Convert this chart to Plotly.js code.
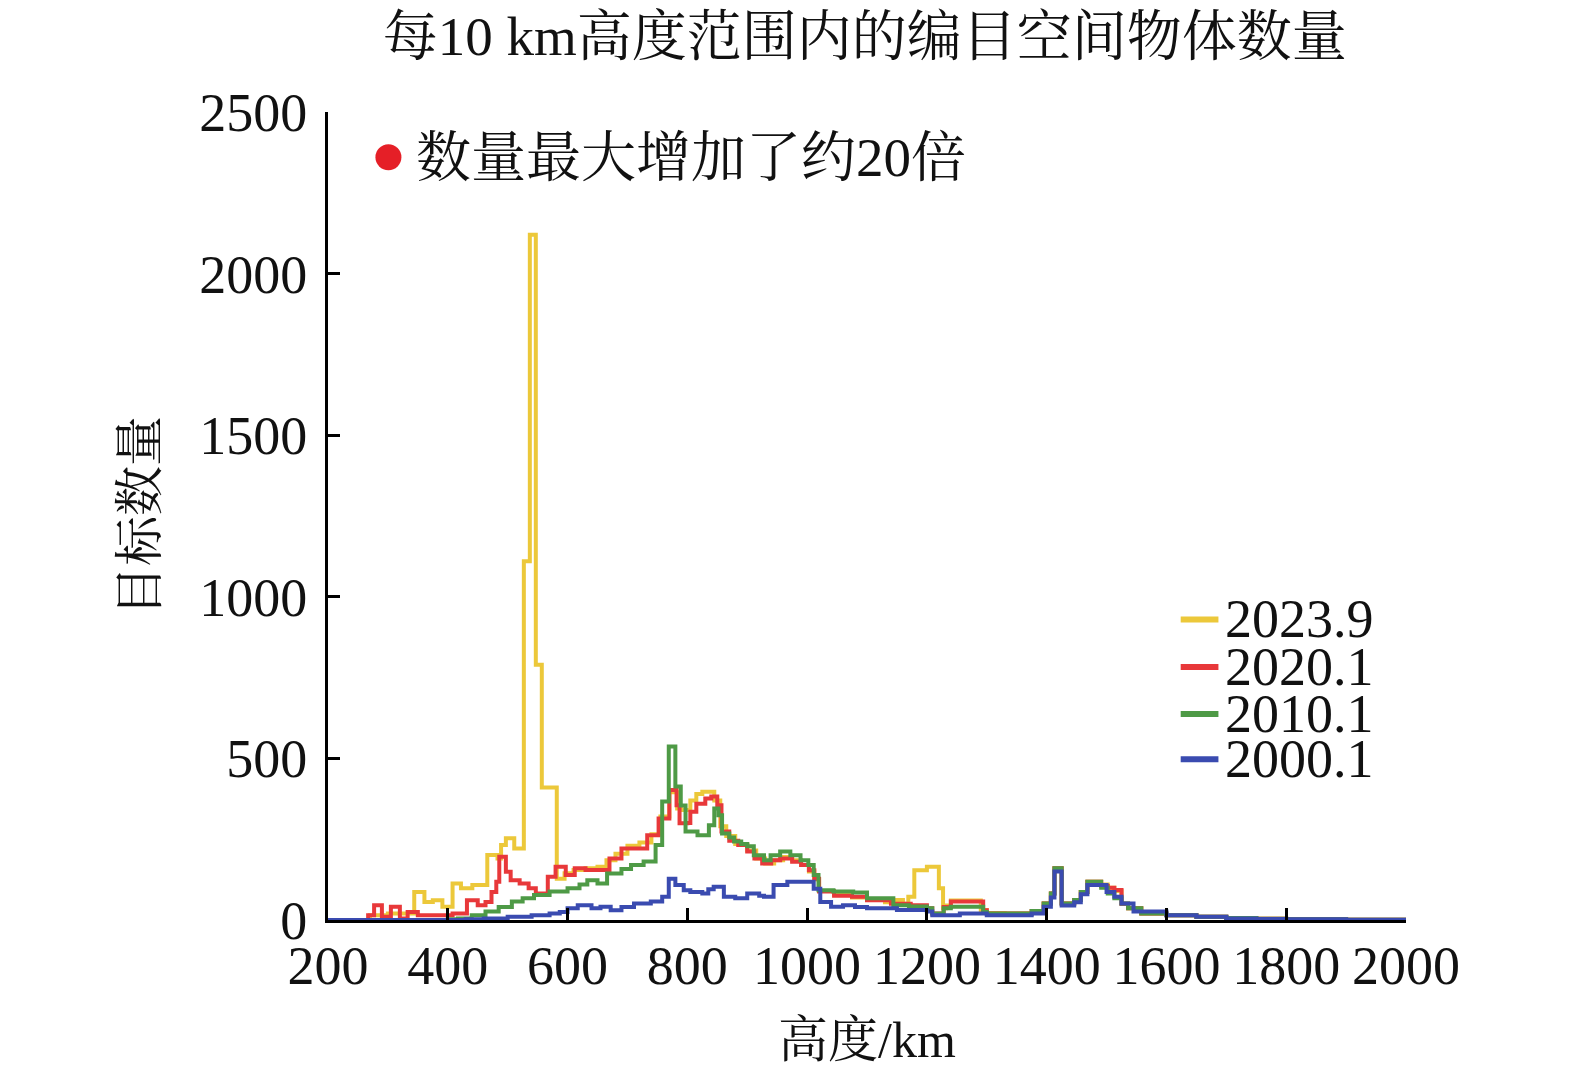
<!DOCTYPE html>
<html>
<head>
<meta charset="utf-8">
<script src="https://cdn.plot.ly/plotly-3.0.1.min.js"></script>
<style>
  body { margin: 0; background: #fff; }
  #debris-graph { width: 1575px; height: 1080px; }
</style>
</head>
<body>
<div id="debris-graph"></div>
<script>
// step histogram, x = start of each step (km), y = objects per 10 km
const x2023 = [200, 270, 300, 344, 361, 375, 391, 408, 422, 441, 466, 483, 489, 497, 511, 527, 537, 547, 557, 582, 595, 610, 630, 650, 665, 680, 700, 720, 740, 755, 770, 783, 790, 805, 815, 825, 845, 855, 865, 880, 900, 915, 930, 945, 960, 975, 990, 1003, 1012, 1020, 1045, 1075, 1100, 1130, 1145, 1160, 1169, 1179, 1200, 1220, 1227, 1232, 1240, 1290, 1300, 1330, 1375, 1395, 1407, 1413, 1425, 1446, 1457, 1468, 1491, 1502, 1513, 1525, 1536, 1558, 1600, 1650, 1700, 1750, 1800, 1900, 2000]
const y2023 = [0, 15, 20, 87, 56, 61, 41, 113, 98, 108, 201, 190, 232, 253, 221, 1110, 2120, 790, 410, 128, 145, 155, 160, 165, 185, 205, 230, 240, 265, 320, 395, 345, 340, 370, 390, 397, 370, 290, 260, 235, 215, 190, 175, 185, 195, 185, 170, 150, 125, 90, 80, 70, 62, 55, 62, 50, 72, 154, 165, 98, 36, 45, 60, 31, 22, 20, 28, 51, 82, 160, 51, 62, 87, 118, 110, 100, 90, 50, 36, 20, 15, 10, 6, 4, 2, 1, 1]

const x2020 = [200, 267, 277, 290, 305, 320, 333, 350, 380, 408, 432, 450, 463, 473, 481, 486, 497, 505, 520, 535, 547, 567, 580, 597, 612, 630, 670, 690, 727, 733, 752, 770, 782, 787, 800, 805, 815, 830, 840, 850, 857, 870, 885, 900, 912, 925, 940, 955, 975, 990, 1003, 1012, 1020, 1045, 1075, 1100, 1140, 1173, 1200, 1209, 1228, 1240, 1294, 1300, 1375, 1395, 1407, 1413, 1425, 1446, 1457, 1468, 1491, 1502, 1513, 1525, 1536, 1558, 1600, 1650, 1700, 1750, 1800, 1900, 2000]
const y2020 = [0, 15, 46, 10, 41, 5, 25, 15, 15, 20, 61, 46, 56, 87, 118, 196, 149, 123, 113, 98, 82, 134, 165, 139, 160, 155, 190, 221, 221, 262, 314, 402, 355, 299, 300, 335, 360, 376, 382, 355, 274, 245, 232, 212, 190, 175, 185, 190, 180, 170, 154, 128, 88, 75, 72, 61, 50, 46, 36, 20, 40, 57, 30, 20, 28, 51, 82, 160, 51, 62, 87, 118, 105, 100, 93, 50, 36, 20, 15, 10, 6, 4, 2, 1, 1]

const x2010 = [200, 400, 417, 440, 463, 485, 507, 525, 544, 570, 600, 620, 633, 650, 666, 690, 706, 727, 747, 758, 769, 780, 789, 797, 817, 836, 845, 852, 858, 870, 878, 890, 900, 911, 928, 939, 955, 972, 989, 1002, 1011, 1019, 1044, 1077, 1100, 1144, 1170, 1200, 1209, 1228, 1240, 1294, 1300, 1375, 1395, 1407, 1413, 1425, 1446, 1457, 1468, 1491, 1502, 1513, 1525, 1536, 1558, 1600, 1650, 1700, 1750, 1800, 1900, 2000]
const y2010 = [0, 2, 5, 15, 26, 40, 57, 67, 77, 88, 98, 110, 123, 113, 144, 158, 170, 181, 232, 367, 537, 413, 354, 274, 262, 293, 345, 324, 268, 255, 243, 235, 228, 200, 185, 200, 212, 200, 185, 170, 139, 92, 88, 85, 67, 46, 42, 36, 20, 36, 41, 25, 20, 28, 51, 82, 160, 51, 62, 87, 118, 100, 82, 67, 51, 36, 20, 15, 10, 6, 4, 2, 1, 1]

const x2000 = [200, 430, 460, 500, 540, 570, 587, 600, 617, 640, 655, 672, 690, 711, 739, 758, 769, 780, 794, 805, 825, 835, 844, 861, 880, 900, 920, 928, 944, 967, 1000, 1011, 1022, 1040, 1060, 1080, 1100, 1150, 1200, 1209, 1255, 1300, 1375, 1395, 1407, 1413, 1425, 1446, 1457, 1468, 1500, 1513, 1525, 1545, 1600, 1650, 1700, 1750, 1800, 1900, 2000]
const y2000 = [0, 2, 5, 10, 15, 20, 25, 36, 46, 36, 41, 30, 40, 51, 57, 72, 128, 108, 92, 87, 82, 95, 103, 72, 67, 82, 75, 72, 108, 118, 118, 97, 56, 41, 46, 40, 36, 31, 26, 15, 20, 15, 20, 41, 70, 150, 45, 55, 80, 108, 87, 72, 51, 26, 15, 10, 5, 3, 2, 1, 1]

const seriesNames = ['2023.9', '2020.1', '2010.1', '2000.1']
const seriesColors = ['#ecc83a', '#e8383a', '#4e9a46', '#3a4bb0']

const serif = 'Liberation Serif, Times New Roman, Noto Serif CJK SC, Noto Sans CJK SC, serif'

function stepTrace (xs, ys, i) {
  return {
    x: xs,
    y: ys,
    name: seriesNames[i],
    type: 'scatter',
    mode: 'lines',
    line: { shape: 'hv', color: seriesColors[i], width: 4 },
    showlegend: false
  }
}

var data = [
  stepTrace(x2023, y2023, 0),
  stepTrace(x2020, y2020, 1),
  stepTrace(x2010, y2010, 2),
  stepTrace(x2000, y2000, 3)
]

// hand-made legend, the reference packs its rows tighter than plotly's legend can
const legendY = [0.372, 0.313, 0.255, 0.199]
var shapes = []
var annotations = []
seriesNames.forEach(function (name, i) {
  shapes.push({
    type: 'line', xref: 'paper', yref: 'paper',
    x0: 0.791, x1: 0.826, y0: legendY[i], y1: legendY[i],
    line: { color: seriesColors[i], width: 6 }
  })
  annotations.push({
    xref: 'paper', yref: 'paper', x: 0.8306, y: legendY[i],
    xanchor: 'left', yanchor: 'middle', showarrow: false,
    height: 46, valign: 'middle',
    text: name, font: { family: serif, size: 54, color: '#111' }
  })
})

// red dot + note
shapes.push({
  type: 'circle', xref: 'paper', yref: 'paper',
  x0: 0.0440, x1: 0.0681, y0: 0.928, y1: 0.960,
  fillcolor: '#e51f27', line: { width: 0 }
})
annotations.push({
  xref: 'paper', yref: 'paper', x: 0.080, y: 0.944,
  xanchor: 'left', yanchor: 'middle', showarrow: false,
  text: '数量最大增加了约20倍', font: { family: serif, size: 55, color: '#111' }
})

var axisStyle = {
  showline: true,
  linecolor: '#000',
  linewidth: 3,
  ticks: 'inside',
  ticklen: 12,
  tickwidth: 3,
  tickcolor: '#000',
  showgrid: false,
  zeroline: false,
  tickfont: { family: serif, size: 54, color: '#111' }
}

var layout = {
  width: 1575,
  height: 1080,
  margin: { l: 328, r: 169, t: 112, b: 160 },
  paper_bgcolor: '#fff',
  plot_bgcolor: '#fff',
  title: {
    text: '每10 km高度范围内的编目空间物体数量',
    font: { family: serif, size: 55, color: '#111' },
    x: 0.549, xanchor: 'center', y: 0.967, yanchor: 'middle'
  },
  xaxis: Object.assign({}, axisStyle, {
    range: [200, 2000],
    tickvals: [200, 400, 600, 800, 1000, 1200, 1400, 1600, 1800, 2000],
    ticklabelstandoff: -4,
    title: { text: '高度/km', font: { family: serif, size: 50, color: '#111' }, standoff: 28 }
  }),
  yaxis: Object.assign({}, axisStyle, {
    range: [0, 2500],
    tickvals: [0, 500, 1000, 1500, 2000, 2500],
    ticklabelstandoff: 7,
    title: { text: '目标数量', font: { family: serif, size: 50, color: '#111' }, standoff: 26 }
  }),
  shapes: shapes,
  annotations: annotations,
  showlegend: false
}

Plotly.newPlot('debris-graph', data, layout, { staticPlot: true })
</script>
</body>
</html>
